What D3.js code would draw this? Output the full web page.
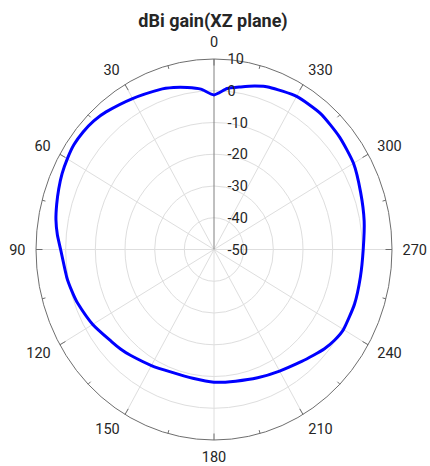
<!DOCTYPE html>
<html>
<head>
<meta charset="utf-8">
<script src="https://cdn.jsdelivr.net/npm/d3@7"></script>
<style>
  body { margin: 0; background: #fff; }
  svg { display: block; font-family: Roboto, "Liberation Sans", Arial, sans-serif; }
</style>
</head>
<body>
<svg id="chart" width="430" height="466"></svg>
<script>
// gain pattern (degrees, counter-clockwise from top)
const angles = [0, 5, 10, 15, 20, 30, 40, 45, 50, 55, 60, 65, 70, 75, 80, 85, 90,
  100, 105, 110, 120, 130, 135, 140, 150, 160, 170, 180, 190, 200, 210, 220, 225,
  230, 235, 240, 250, 260, 270, 280, 290, 300, 310, 320, 330, 340, 345, 350, 355];
const gain = [-1.3, 0.7, 1.8, 2.8, 3.6, 4.9, 6.6, 7.3, 7.6, 7.6, 7.1, 6.5, 5.7, 4.9, 4.1, 3.0, 1.7,
  0.4, -0.3, -1.0, -2.8, -4.9, -5.6, -6.4, -7.8, -8.8, -8.8, -8.2, -7.9, -7.0, -5.8, -4.0, -2.8,
  -1.4, -0.3, 0.4, 0.4, 0.1, 0.3, 1.4, 2.6, 4.3, 5.2, 5.9, 5.7, 4.4, 3.3, 2.0, 0.9];

const rTicks = [10, 0, -10, -20, -30, -40, -50];
const thetaTicks = [0, 30, 60, 90, 120, 150, 180, 210, 240, 270, 300, 330];
const thetaMinor = [15, 45, 75, 105, 135, 165, 195, 225, 255, 285, 315, 345];
const title = 'dBi gain(XZ plane)';

const svg = d3.select('#chart');

// the picture is a bit taller than wide, so radii differ per axis
const cx = 214, cy = 249.5;
const rxScale = d3.scaleLinear().domain([-50, 10]).range([0, 178]);
const ryScale = d3.scaleLinear().domain([-50, 10]).range([0, 190.5]);
const ang = d3.scaleLinear().domain([0, 360]).range([0, 2 * Math.PI]);

const px = (deg, v) => cx - Math.sin(ang(deg)) * rxScale(v);
const py = (deg, v) => cy - Math.cos(ang(deg)) * ryScale(v);

const gridColor = '#dedede';
const axisColor = '#6e6e6e';
const textColor = '#262626';

// grid rings
const g = svg.append('g');
g.selectAll('.ring')
  .data(rTicks.filter(d => d > -50 && d < 10))
  .join('ellipse')
    .attr('class', 'ring')
    .attr('cx', cx).attr('cy', cy)
    .attr('rx', d => rxScale(d))
    .attr('ry', d => ryScale(d))
    .attr('fill', 'none')
    .attr('stroke', gridColor)
    .attr('stroke-width', 1);

// spokes
g.selectAll('.spoke')
  .data(thetaTicks.filter(d => d !== 0))
  .join('line')
    .attr('class', 'spoke')
    .attr('x1', cx).attr('y1', cy)
    .attr('x2', d => px(d, 10))
    .attr('y2', d => py(d, 10))
    .attr('stroke', gridColor)
    .attr('stroke-width', 1);

// r axis line
g.append('line')
  .attr('x1', cx).attr('y1', cy)
  .attr('x2', px(0, 10)).attr('y2', py(0, 10))
  .attr('stroke', '#808080')
  .attr('stroke-width', 1);

// outer ring + ticks
g.append('ellipse')
  .attr('cx', cx).attr('cy', cy)
  .attr('rx', rxScale(10)).attr('ry', ryScale(10))
  .attr('fill', 'none')
  .attr('stroke', axisColor)
  .attr('stroke-width', 1);

const tick = (deg, len) => {
  const s = Math.sin(ang(deg)), c = Math.cos(ang(deg));
  return {
    x1: px(deg, 10), y1: py(deg, 10),
    x2: px(deg, 10) + s * len, y2: py(deg, 10) + c * len
  };
};
g.selectAll('.tmaj')
  .data(thetaTicks)
  .join('line')
    .attr('class', 'tmaj')
    .each(function(d) {
      const t = tick(d, 6.5);
      d3.select(this).attr('x1', t.x1).attr('y1', t.y1).attr('x2', t.x2).attr('y2', t.y2);
    })
    .attr('stroke', axisColor);
g.selectAll('.tmin')
  .data(thetaMinor)
  .join('line')
    .attr('class', 'tmin')
    .each(function(d) {
      const t = tick(d, 3.5);
      d3.select(this).attr('x1', t.x1).attr('y1', t.y1).attr('x2', t.x2).attr('y2', t.y2);
    })
    .attr('stroke', axisColor);

// data line
const pts = angles.map((a, i) => [a, gain[i]]);
const line = d3.line()
  .x(d => px(d[0], d[1]))
  .y(d => py(d[0], d[1]))
  .curve(d3.curveCardinalClosed.tension(0.4));

svg.append('path')
  .datum(pts)
  .attr('d', line)
  .attr('fill', 'none')
  .attr('stroke', '#0000ff')
  .attr('stroke-width', 3)
  .attr('stroke-linejoin', 'round');

// r labels
svg.selectAll('.rlab')
  .data(rTicks)
  .join('text')
    .attr('class', 'rlab')
    .attr('x', cx + 13.5)
    .attr('y', d => py(0, d))
    .attr('dy', '0.35em')
    .attr('font-size', 14.5)
    .attr('fill', textColor)
    .text(d => d);

// theta labels
const gap = 10.5;
svg.selectAll('.tlab')
  .data(thetaTicks)
  .join('text')
    .attr('class', 'tlab')
    .attr('x', d => cx - Math.sin(ang(d)) * (rxScale(10) + gap))
    .attr('y', d => cy - Math.cos(ang(d)) * (ryScale(10) + 17))
    .attr('dy', '0.35em')
    .attr('text-anchor', d => (d === 0 || d === 180) ? 'middle' : (d < 180 ? 'end' : 'start'))
    .attr('font-size', 14.5)
    .attr('fill', textColor)
    .text(d => d);

svg.append('text')
  .attr('x', 213)
  .attr('y', 27)
  .attr('text-anchor', 'middle')
  .attr('font-size', 18)
  .attr('font-weight', 'bold')
  .attr('fill', textColor)
  .text(title);
</script>
</body>
</html>
